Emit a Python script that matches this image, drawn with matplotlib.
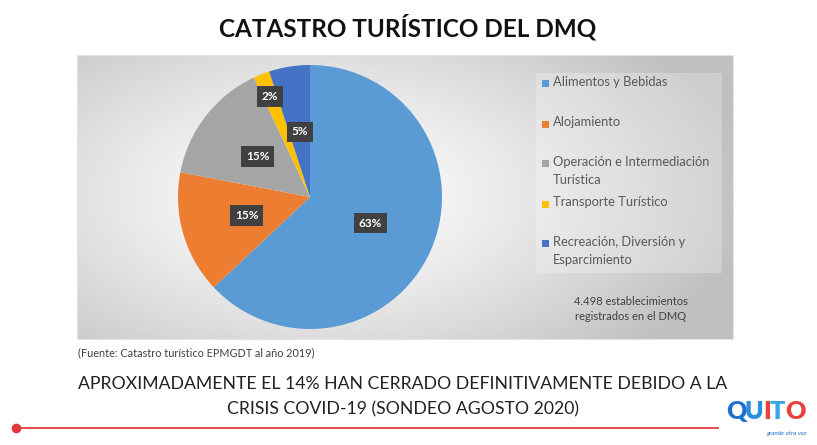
import numpy as np
import matplotlib.pyplot as plt
from matplotlib.patches import Rectangle

plt.rcParams['font.family'] = ['Lato', 'DejaVu Sans']

# data
categories = ['Alimentos y Bebidas', 'Alojamiento',
              'Operación e Intermediación\nTurística', 'Transporte Turístico',
              'Recreación, Diversión y\nEsparcimiento']
shares = [63, 15, 15, 2, 5]
colors = ['#5B9BD5', '#ED7D31', '#A5A5A5', '#FFC000', '#4472C4']
legend_y = [83, 124, 163, 204, 243]

title = 'CATASTRO TURÍSTICO DEL DMQ'
note = '4.498 establecimientos\nregistrados en el DMQ'
source = '(Fuente: Catastro turístico EPMGDT al año 2019)'
headline = ['APROXIMADAMENTE EL 14% HAN CERRADO DEFINITIVAMENTE DEBIDO A LA',
            'CRISIS COVID-19 (SONDEO AGOSTO 2020)']

W, H = 817, 445
fig = plt.figure(figsize=(W / 100, H / 100), dpi=100)
fig.patch.set_facecolor('white')

# background axes in pixel coords (y down)
bg = fig.add_axes([0, 0, 1, 1])
bg.set_xlim(0, W)
bg.set_ylim(H, 0)
bg.axis('off')

# grey radial gradient panel
x0, x1, y0, y1 = 77, 733, 55, 339
xx, yy = np.meshgrid(np.linspace(x0, x1, 300), np.linspace(y0, y1, 150))
d = np.sqrt(((xx - 320) / 430) ** 2 + ((yy - 195) / 230) ** 2)
shade = 1.0 - 0.25 * np.clip(d, 0, 1) ** 1.3
bg.imshow(shade, cmap='gray', vmin=0, vmax=1, extent=[x0, x1, y1, y0],
          aspect='auto', zorder=0, interpolation='bilinear')
bg.add_patch(Rectangle((x0, y0), x1 - x0, y1 - y0, fill=False,
                       edgecolor='#e4e4e4', lw=0.8, zorder=1))

# legend box
bg.add_patch(Rectangle((536, 73), 186, 200, facecolor='white', alpha=0.25,
                       edgecolor='none', zorder=1))
for cat, col, ly in zip(categories, colors, legend_y):
    bg.add_patch(Rectangle((542, ly - 3.5), 7, 7, facecolor=col,
                           edgecolor='none', zorder=2))
    bg.text(553, ly - 7.5, cat, fontsize=9.3, color='#595959', va='top',
            ha='left', linespacing=1.7, zorder=2)

bg.text(631, 309, note, fontsize=8, color='#404040', ha='center',
        va='center', linespacing=1.35)

# title and texts
bg.text(408, 27, title, fontsize=17.5, fontweight='bold', ha='center',
        va='center', color='#111111')
bg.text(78, 353, source, fontsize=7.8, color='#404040', ha='left',
        va='center')
bg.text(403, 384, headline[0], fontsize=12.7, ha='center', va='center',
        color='#222222')
bg.text(403, 409, headline[1], fontsize=12.7, ha='center', va='center',
        color='#222222')

# red line + dot
bg.plot([16, 718], [428, 428], color='#E03A3E', lw=1.3, zorder=2)
bg.plot([16], [428], 'o', color='#E03A3E', ms=6, zorder=3)

# logo
logo = [('Q', '#1F6FD1', 0), ('U', '#2B8FE0', 19), ('I', '#E8403A', 37),
        ('T', '#37A6E8', 44), ('O', '#E8403A', 59)]
for ch, col, off in logo:
    bg.text(726 + off, 412, ch, fontsize=18, fontweight='heavy', color=col,
            ha='left', va='center')
bg.text(786, 433, 'grande otra vez', fontsize=4.5, style='italic',
        color='#1F6FD1', ha='center', va='center')

# pie
cx, cy, r = 310, 197, 132
pax = fig.add_axes([(cx - r) / W, (H - cy - r) / H, 2 * r / W, 2 * r / H])
wedges, texts, autotexts = pax.pie(
    shares, colors=colors, startangle=90, counterclock=False,
    autopct='%1.0f%%', pctdistance=0.5,
    wedgeprops=dict(linewidth=0),
    textprops=dict(color='white', fontsize=8.5, fontweight='bold'))
for i, t in enumerate(autotexts):
    t.set_bbox(dict(boxstyle='square,pad=0.4', facecolor='#404040',
                    edgecolor='none'))
    if shares[i] == 2:
        px, py = t.get_position()
        t.set_position((px * 0.82 / 0.5, py * 0.82 / 0.5))
pax.set_xlim(-1, 1)
pax.set_ylim(-1, 1)
pax.axis('off')

fig.savefig('out.png', dpi=100, facecolor='white')
